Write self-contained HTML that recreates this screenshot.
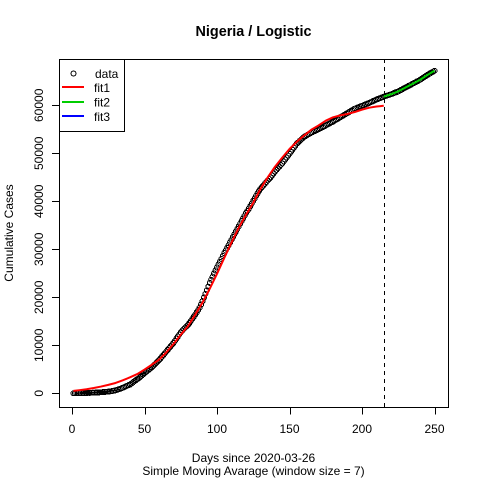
<!DOCTYPE html>
<html>
<head>
<meta charset="utf-8">
<title>Nigeria / Logistic</title>
<style>
html,body{margin:0;padding:0;background:#fff}
svg{display:block}
text{font-family:"Liberation Sans",Arial,sans-serif;fill:#000}
</style>
</head>
<body>
<svg id="chart" xmlns="http://www.w3.org/2000/svg" width="480" height="480" viewBox="0 0 480 480">
<rect x="0" y="0" width="480" height="480" fill="#fff"/>
<text x="253.5" y="36" font-size="14.4" font-weight="bold" text-anchor="middle">Nigeria / Logistic</text>
<text x="253.5" y="462" font-size="12" text-anchor="middle">Days since 2020-03-26</text>
<text x="253.5" y="475" font-size="12" text-anchor="middle">Simple Moving Avarage (window size = 7)</text>
<text transform="translate(13,233) rotate(-90)" font-size="12" text-anchor="middle">Cumulative Cases</text>
<g id="data-layer"></g>
<g id="fit-layer"></g>
<g id="axis-layer"></g>
<rect x="59.5" y="59.5" width="389" height="348" fill="none" stroke="#000" stroke-width="1" shape-rendering="crispEdges"/>
<g>
<rect x="59.5" y="59.5" width="65" height="72" fill="#fff" stroke="#000" stroke-width="1" shape-rendering="crispEdges"/>
<circle cx="73.5" cy="73.5" r="2.5" fill="none" stroke="#000" shape-rendering="crispEdges"/>
<text x="95" y="78" font-size="12">data</text>
<line x1="62" x2="84" y1="87" y2="87" stroke="#ff0000" stroke-width="2" shape-rendering="crispEdges"/>
<text x="94" y="92" font-size="12">fit1</text>
<line x1="62" x2="84" y1="102" y2="102" stroke="#00cd00" stroke-width="2" shape-rendering="crispEdges"/>
<text x="94" y="106.5" font-size="12">fit2</text>
<line x1="62" x2="84" y1="116" y2="116" stroke="#0000ff" stroke-width="2" shape-rendering="crispEdges"/>
<text x="94" y="121" font-size="12">fit3</text>
</g>
</svg>
<script>
var xTicks = [0, 50, 100, 150, 200, 250];
var yTicks = [0, 10000, 20000, 30000, 40000, 50000, 60000];
var splitDay = 215;
var cases = [
3,8,14,20,28,35,44,55,66,78,
88,98,108,118,130,145,160,175,195,220,
240,265,290,320,350,395,440,490,550,620,
710,810,920,1030,1150,1290,1430,1580,1700,1820,
2030,2260,2490,2720,2950,3170,3400,3650,3920,4200,
4440,4680,4920,5160,5400,5700,6000,6300,6600,6900,
7250,7600,7950,8320,8700,9060,9420,9780,10140,10500,
10940,11380,11820,12260,12700,13060,13380,13680,13960,14220,
14640,15080,15520,15960,16400,16860,17340,17860,18480,19200,
19950,20700,21450,22200,23000,23650,24300,24950,25600,26200,
26800,27400,28000,28600,29200,29750,30300,30850,31400,32000,
32560,33120,33680,34240,34800,35350,35900,36450,37000,37550,
38000,38500,39000,39550,40100,40600,41150,41650,42150,42600,
42950,43300,43650,44000,44350,44650,45000,45400,45800,46200,
46540,46880,47220,47560,47900,48300,48700,49100,49500,49900,
50320,50740,51160,51580,52000,52280,52560,52840,53120,53400,
53580,53760,53940,54120,54300,54440,54580,54720,54860,55000,
55160,55320,55480,55640,55800,55960,56120,56280,56440,56600,
56780,56960,57140,57320,57500,57680,57860,58040,58220,58400,
58580,58760,58940,59120,59300,59420,59540,59660,59780,59900,
60020,60140,60260,60380,60500,60640,60780,60920,61060,61200,
61320,61440,61560,61680,61800,61900,62000,62100,62200,62300,
62420,62540,62660,62780,62900,63060,63220,63380,63540,63700,
63860,64020,64180,64340,64500,64660,64820,64980,65140,65300,
65500,65700,65900,66100,66300,66480,66660,66840,67020,67200
];
var fit1Days = [1,5,10,15,20,25,30,35,40,45,50,55,60,65,70,75,80,85,90,95,100,105,110,115,120,125,130,135,140,145,150,155,160,165,170,175,180,185,190,195,200,205,210,215];
var fit1Values = [500,650,850,1100,1400,1750,2150,2700,3330,4000,4950,5950,7000,8500,10300,12200,14000,16400,18900,21800,24900,28200,31400,34500,37200,39700,42600,45000,47200,49100,50900,52400,53700,54900,55800,56800,57500,57900,58200,58600,59100,59500,59750,59900];
var fit2Days = [215,220,225,230,235,240,245,250];
var fit2Values = [61800,62300,62900,63700,64500,65300,66300,67200];

function xScale(d){ return 72 + d * 1.45; }
function yScale(v){ return 393.3 - v * 0.0048; }
var NS = 'http://www.w3.org/2000/svg';
function make(tag, parent, attrs){
  var el = document.createElementNS(NS, tag);
  for (var k in attrs) el.setAttribute(k, attrs[k]);
  parent.appendChild(el);
  return el;
}
var dataLayer = document.getElementById('data-layer');
cases.forEach(function(v, i){
  var c = make('circle', dataLayer, {cx: xScale(i + 1), cy: yScale(v), r: 2.5, fill: 'none', stroke: '#000', 'stroke-width': 1, 'shape-rendering': 'crispEdges'});
  
  
});
function linePoints(days, vals){
  return days.map(function(d, i){ return xScale(d) + ',' + yScale(vals[i]); }).join(' ');
}
var fitLayer = document.getElementById('fit-layer');
var fit1 = make('polyline', fitLayer, {points: linePoints(fit1Days, fit1Values), fill: 'none', stroke: '#ff0000', 'stroke-width': 2, 'stroke-linejoin': 'round'});


var fit2 = make('polyline', fitLayer, {points: linePoints(fit2Days, fit2Values), fill: 'none', stroke: '#00cd00', 'stroke-width': 2, 'stroke-linejoin': 'round'});


var split = make('line', fitLayer, {x1: Math.round(xScale(splitDay)) + 0.5, x2: Math.round(xScale(splitDay)) + 0.5, y1: 59, y2: 407, stroke: '#000', 'stroke-width': 1, 'stroke-dasharray': '4 4', 'shape-rendering': 'crispEdges'});



var axisLayer = document.getElementById('axis-layer');
var xAxisLine = make('line', axisLayer, {x1: xScale(xTicks[0]), x2: xScale(xTicks[xTicks.length - 1]), y1: 407.5, y2: 407.5, stroke: '#000', 'shape-rendering': 'crispEdges'});


xTicks.forEach(function(t){
  var x = Math.round(xScale(t)) + 0.5;
  var tick = make('line', axisLayer, {x1: x, x2: x, y1: 407, y2: 414.5, stroke: '#000', 'shape-rendering': 'crispEdges'});
  
  
  var label = make('text', axisLayer, {x: xScale(t), y: 433, 'font-size': 12, 'text-anchor': 'middle'});
  label.textContent = t;
  
  
});
var yAxisLine = make('line', axisLayer, {x1: 59.5, x2: 59.5, y1: yScale(yTicks[0]), y2: yScale(yTicks[yTicks.length - 1]), stroke: '#000', 'shape-rendering': 'crispEdges'});


yTicks.forEach(function(t){
  var y = Math.round(yScale(t)) + 0.5;
  var tick = make('line', axisLayer, {x1: 52, x2: 59.5, y1: y, y2: y, stroke: '#000', 'shape-rendering': 'crispEdges'});
  
  
  var label = make('text', axisLayer, {transform: 'translate(43,' + yScale(t) + ') rotate(-90)', 'font-size': 12, 'text-anchor': 'middle'});
  label.textContent = t;
  
  
});
</script>
</body>
</html>
